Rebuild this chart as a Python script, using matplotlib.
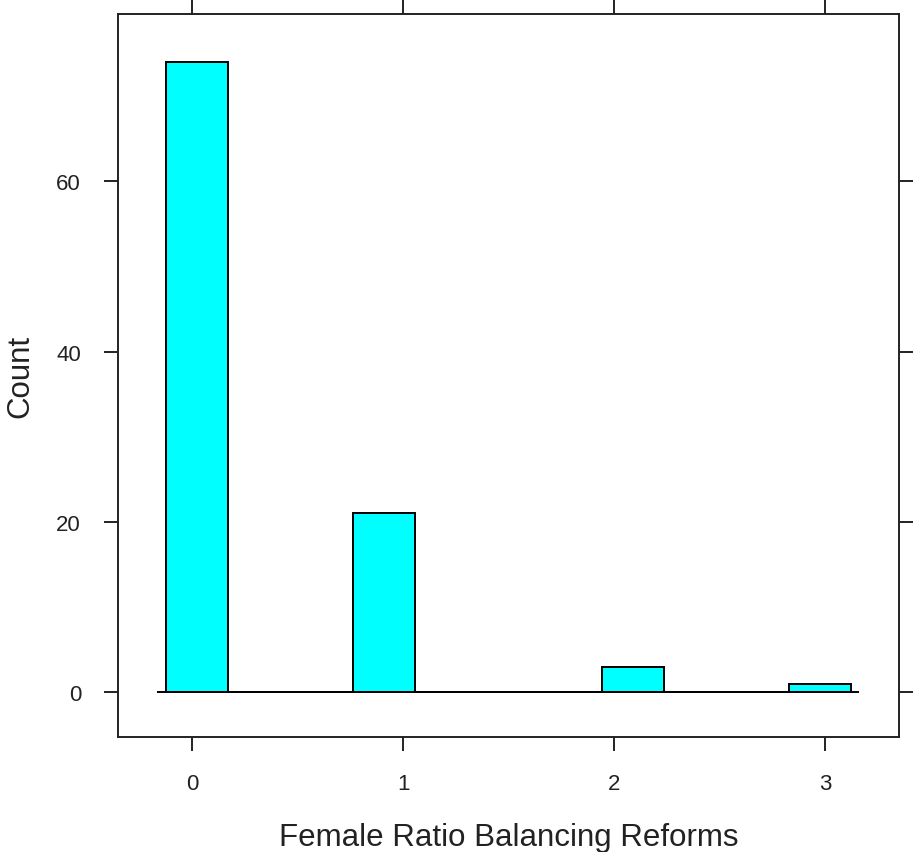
import numpy as np
import matplotlib
matplotlib.use("Agg")
import matplotlib.pyplot as plt

# Data #
reforms = [0, 1, 2, 3]
counts = [74, 21, 3, 1]
# histogram break points (11 bins, as in the lattice plot)
breaks = np.linspace(-0.1247, 3.122, 12)

plt.rcParams['font.family'] = ['Liberation Sans', 'DejaVu Sans']

fig = plt.figure(figsize=(9.13, 8.53), dpi=100)
ax = fig.add_axes([0.1287, 0.1348, 0.9847 - 0.1287, 0.9821 - 0.1348])

# Bars #
ax.hist(reforms, bins=breaks, weights=counts, color='#00FFFF',
        edgecolor='black', linewidth=1.4)
ax.hlines(0, -0.166, 3.161, color='black', lw=1.4)

ax.set_xlim(-0.3545, 3.349)
ax.set_ylim(-5.25, 79.6)

ax.set_xticks(reforms)
ax.set_yticks([0, 20, 40, 60])

ax.tick_params(axis='both', which='both', direction='out', length=10.2, width=1.4,
               labelsize=16, top=True, right=True, pad=16, colors='#222222')
for s in ax.spines.values():
    s.set_linewidth(1.4)
    s.set_color('#222222')

ax.set_xlabel('Female Ratio Balancing Reforms', fontsize=22.5, labelpad=20, color='#222222')
ax.set_ylabel('Count', fontsize=22.5, labelpad=15, color='#222222')

fig.savefig('out.png', dpi=100)
